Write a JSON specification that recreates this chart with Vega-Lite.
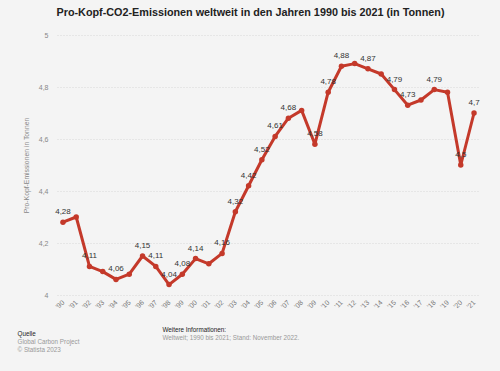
{
  "$schema": "https://vega.github.io/schema/vega-lite/v6.json",
  "autosize": "none",
  "width": 423,
  "height": 260,
  "padding": {"left": 57, "top": 35, "right": 20, "bottom": 76},
  "background": "#f4f4f4",
  "title": {
    "text": "Pro-Kopf-CO2-Emissionen weltweit in den Jahren 1990 bis 2021 (in Tonnen)",
    "anchor": "middle",
    "dx": -18,
    "offset": 13,
    "fontSize": 10.8,
    "fontWeight": "bold",
    "font": "Liberation Sans",
    "color": "#222222"
  },
  "config": {
    "locale": {"number": {"decimal": ",", "thousands": ".", "grouping": [3], "currency": ["", " €"]}},
    "view": {"stroke": null},
    "font": "Liberation Sans"
  },
  "data": {
    "values": [
      {"Jahr": 1990, "Wert": 4.28, "beschriftet": true},
      {"Jahr": 1991, "Wert": 4.30, "beschriftet": false},
      {"Jahr": 1992, "Wert": 4.11, "beschriftet": true},
      {"Jahr": 1993, "Wert": 4.09, "beschriftet": false},
      {"Jahr": 1994, "Wert": 4.06, "beschriftet": true},
      {"Jahr": 1995, "Wert": 4.08, "beschriftet": false},
      {"Jahr": 1996, "Wert": 4.15, "beschriftet": true},
      {"Jahr": 1997, "Wert": 4.11, "beschriftet": true},
      {"Jahr": 1998, "Wert": 4.04, "beschriftet": true},
      {"Jahr": 1999, "Wert": 4.08, "beschriftet": true},
      {"Jahr": 2000, "Wert": 4.14, "beschriftet": true},
      {"Jahr": 2001, "Wert": 4.12, "beschriftet": false},
      {"Jahr": 2002, "Wert": 4.16, "beschriftet": true},
      {"Jahr": 2003, "Wert": 4.32, "beschriftet": true},
      {"Jahr": 2004, "Wert": 4.42, "beschriftet": true},
      {"Jahr": 2005, "Wert": 4.52, "beschriftet": true},
      {"Jahr": 2006, "Wert": 4.61, "beschriftet": true},
      {"Jahr": 2007, "Wert": 4.68, "beschriftet": true},
      {"Jahr": 2008, "Wert": 4.71, "beschriftet": false},
      {"Jahr": 2009, "Wert": 4.58, "beschriftet": true},
      {"Jahr": 2010, "Wert": 4.78, "beschriftet": true},
      {"Jahr": 2011, "Wert": 4.88, "beschriftet": true},
      {"Jahr": 2012, "Wert": 4.89, "beschriftet": false},
      {"Jahr": 2013, "Wert": 4.87, "beschriftet": true},
      {"Jahr": 2014, "Wert": 4.85, "beschriftet": false},
      {"Jahr": 2015, "Wert": 4.79, "beschriftet": true},
      {"Jahr": 2016, "Wert": 4.73, "beschriftet": true},
      {"Jahr": 2017, "Wert": 4.75, "beschriftet": false},
      {"Jahr": 2018, "Wert": 4.79, "beschriftet": true},
      {"Jahr": 2019, "Wert": 4.78, "beschriftet": false},
      {"Jahr": 2020, "Wert": 4.5, "beschriftet": true},
      {"Jahr": 2021, "Wert": 4.7, "beschriftet": true}
    ]
  },
  "resolve": {"axis": {"x": "independent", "y": "independent"}},
  "layer": [
    {
      "mark": {"type": "line", "color": "#c4392a", "strokeWidth": 3, "strokeJoin": "round", "strokeCap": "round"},
      "encoding": {
        "x": {
          "field": "Jahr", "type": "ordinal",
          "scale": {"type": "point", "padding": 0.45},
          "axis": {
            "orient": "bottom",
            "labelAngle": -45, "labelAlign": "right", "labelBaseline": "middle",
            "labelExpr": "'\\'' + substring(toString(datum.value), 2)",
            "labelFontSize": 7, "labelColor": "#777777", "labelPadding": 6,
            "ticks": false, "domain": false, "grid": false,
            "title": "Quelle",
            "titleX": -40, "titleY": 35, "titleAlign": "left", "titleBaseline": "top",
            "titleAngle": 0,
            "titleFontSize": 6.3, "titleFontWeight": "normal", "titleColor": "#222222"
          }
        },
        "y": {
          "field": "Wert", "type": "quantitative",
          "scale": {"domain": [4, 5], "nice": false, "zero": false},
          "axis": {
            "orient": "left",
            "values": [4, 4.2, 4.4, 4.6, 4.8, 5],
            "format": ".1~f",
            "labelFontSize": 7, "labelColor": "#888888", "labelPadding": 9,
            "ticks": false, "domain": false,
            "grid": true, "gridColor": "#d8d8d8", "gridDash": [1, 2], "gridWidth": 1,
            "title": "Pro-Kopf-Emissionen in Tonnen",
            "titleFontSize": 6.8, "titleFontWeight": "normal", "titleColor": "#888888",
            "titlePadding": 9
          }
        }
      }
    },
    {
      "mark": {"type": "circle", "color": "#c4392a", "size": 30, "opacity": 1},
      "encoding": {
        "x": {
          "field": "Jahr", "type": "ordinal",
          "axis": {
            "orient": "bottom",
            "labels": false, "ticks": false, "domain": false, "grid": false,
            "title": ["Global Carbon Project", "© Statista 2023"],
            "titleX": -40, "titleY": 43, "titleAlign": "left", "titleBaseline": "top",
            "titleAngle": 0, "titleLineHeight": 8,
            "titleFontSize": 6.3, "titleFontWeight": "normal", "titleColor": "#999999"
          }
        },
        "y": {
          "field": "Wert", "type": "quantitative",
          "axis": {
            "orient": "left",
            "labels": false, "ticks": false, "domain": false, "grid": false,
            "title": "Weitere Informationen:",
            "titleX": 105, "titleY": 291, "titleAlign": "left", "titleBaseline": "top",
            "titleAngle": 0,
            "titleFontSize": 6.3, "titleFontWeight": "normal", "titleColor": "#222222"
          }
        }
      }
    },
    {
      "transform": [{"filter": "datum.beschriftet"}],
      "mark": {"type": "text", "dy": -10, "fontSize": 8, "fontWeight": "normal", "color": "#333333"},
      "encoding": {
        "x": {"field": "Jahr", "type": "ordinal", "axis": null},
        "y": {
          "field": "Wert", "type": "quantitative",
          "axis": {
            "orient": "left",
            "labels": false, "ticks": false, "domain": false, "grid": false,
            "title": "Weltweit; 1990 bis 2021; Stand: November 2022.",
            "titleX": 105, "titleY": 299, "titleAlign": "left", "titleBaseline": "top",
            "titleAngle": 0,
            "titleFontSize": 6.3, "titleFontWeight": "normal", "titleColor": "#999999"
          }
        },
        "text": {"field": "Wert", "type": "quantitative", "format": ".2~f"}
      }
    }
  ]
}
